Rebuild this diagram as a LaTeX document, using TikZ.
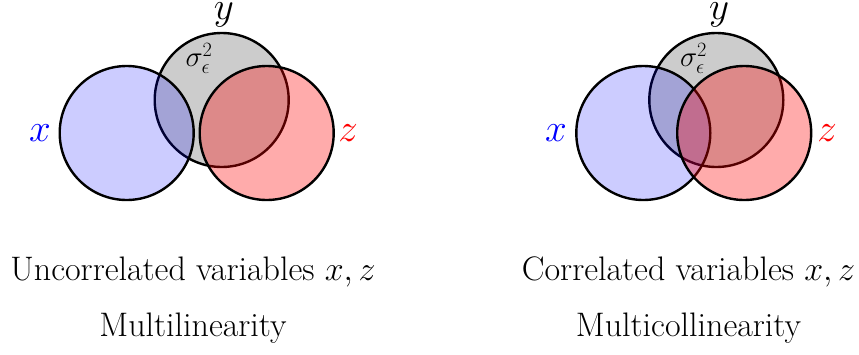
\RequirePackage{fix-cm}
\documentclass[tikz,border=0pt]{standalone}
\tikzset{
  vcirc/.style={circle, draw=black, line width=2.4pt, minimum size=134pt, inner sep=0pt},
  yset/.style={vcirc, fill=black, fill opacity=0.2},
  xset/.style={vcirc, fill=blue, fill opacity=0.2},
  zset/.style={vcirc, fill=red, fill opacity=0.33},
  lab/.style={anchor=base, inner sep=0pt, font=\fontsize{39}{46}\selectfont},
  siglab/.style={anchor=base, inner sep=0pt, font=\fontsize{29}{34}\selectfont},
  captext/.style={anchor=base, inner sep=0pt, font=\fontsize{34}{40}\selectfont}
}
\begin{document}
\begin{tikzpicture}[x=1pt,y=-1pt]
\useasboundingbox (0,0) rectangle (859,354);
% left diagram
\node[yset] (ly) at (221.7,100) {};
\node[xset] (lx) at (126.7,133) {};
\node[zset] (lz) at (266.7,133) {};
\node[lab, text=blue] (lxl) at (40,141.7) {$x$};
\node[lab, text=red] (lzl) at (348,141.7) {$z$};
\node[lab] (lyl) at (224,19) {$y$};
\node[siglab] (ls) at (199,66.7) {$\sigma^2_\epsilon$};
\node[captext] (lt1) at (193,280) {Uncorrelated variables $x, z$};
\node[captext] (lt2) at (193,336) {Multilinearity};
% right diagram
\node[yset] (ry) at (716.3,100) {};
\node[xset] (rx) at (643.3,133) {};
\node[zset] (rz) at (744.2,133) {};
\node[lab, text=blue] (rxl) at (556,141.7) {$x$};
\node[lab, text=red] (rzl) at (827,141.7) {$z$};
\node[lab] (ryl) at (719,19) {$y$};
\node[siglab] (rs) at (693.5,66.7) {$\sigma^2_\epsilon$};
\node[captext] (rt1) at (688.5,280) {Correlated variables $x, z$};
\node[captext] (rt2) at (688.5,336) {Multicollinearity};
\end{tikzpicture}
\end{document}
